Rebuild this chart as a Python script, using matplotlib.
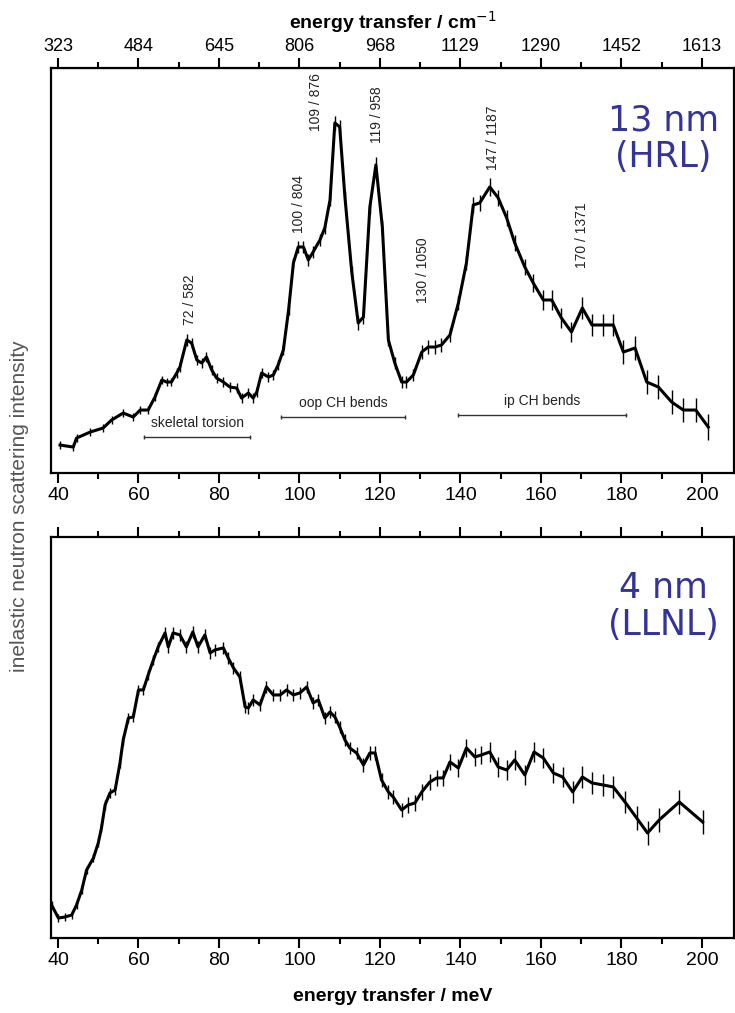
import matplotlib
matplotlib.use("Agg")
import matplotlib.pyplot as plt
from matplotlib.ticker import MultipleLocator

# ---- data (arbitrary intensity units) ----
hrl_e = [40.5, 43.8, 44.6, 48.0, 51.2, 53.3, 56.2, 58.7, 60.4, 62.4, 64.1, 65.8, 67.0,
         68.2, 69.5, 70.3, 72.0, 73.2, 74.5, 75.7, 76.9, 78.2, 79.4, 81.1, 82.7, 84.4,
         85.6, 87.3, 88.5, 89.4, 90.6, 92.3, 93.5, 94.7, 96.0, 97.3, 98.5, 99.7, 101.0,
         102.2, 103.4, 105.1, 106.3, 107.6, 108.8, 110.0, 111.3, 113.0, 114.6, 115.9,
         117.5, 119.0, 120.6, 122.1, 123.7, 125.4, 126.6, 128.3, 130.4, 132.0, 133.7,
         135.3, 137.4, 139.5, 141.5, 143.2, 144.8, 147.3, 149.4, 151.5, 153.5, 156.0,
         158.1, 160.6, 162.7, 165.1, 167.6, 170.3, 172.7, 175.5, 178.0, 180.5, 183.4,
         186.3, 189.2, 192.5, 195.4, 198.5, 201.6]
hrl_i = [28, 26, 35, 41, 45, 53, 60, 56, 63, 63, 76, 93, 91,
         91, 100, 106, 133, 130, 113, 110, 116, 103, 95, 91, 86, 85,
         75, 80, 75, 81, 100, 96, 98, 108, 123, 163, 210, 226, 226,
         213, 221, 233, 245, 273, 350, 346, 276, 201, 150, 156,
         266, 308, 246, 133, 110, 91, 91, 98, 121, 126, 126,
         128, 138, 170, 210, 268, 270, 286, 275, 255, 230, 206,
         190, 173, 173, 155, 141, 165, 148, 148, 148, 121, 125,
         91, 86, 71, 63, 63, 46]
hrl_err = [4, 4, 4, 4, 4, 4, 4, 4, 4, 4, 4, 4, 4,
           4, 5, 5, 6, 5, 5, 5, 5, 5, 5, 5, 5, 5,
           5, 5, 5, 5, 5, 5, 5, 5, 5, 5, 5, 6, 6,
           6, 6, 6, 6, 6, 7, 7, 6, 6, 7, 7,
           7, 8, 7, 6, 6, 6, 6, 6, 7, 7, 7,
           7, 7, 7, 7, 8, 8, 9, 8, 8, 8, 8,
           9, 10, 10, 10, 10, 11, 11, 11, 11, 12, 12,
           12, 12, 12, 12, 12, 13]

llnl_e = [38.4, 40.1, 41.7, 43.4, 44.6, 45.9, 47.1, 48.8, 50.0, 50.8, 51.7, 52.9,
          54.2, 55.4, 56.2, 57.5, 58.7, 60.0, 61.2, 62.4, 63.7, 64.9, 66.6, 67.4,
          68.6, 70.3, 71.9, 73.5, 74.8, 76.5, 77.8, 79.0, 81.1, 82.3, 83.6, 85.2,
          86.5, 87.3, 88.5, 90.2, 91.8, 93.5, 95.2, 96.8, 98.5, 100.1, 101.8, 103.4,
          104.7, 106.3, 107.6, 108.8, 110.0, 111.3, 112.5, 114.2, 115.9, 117.5,
          118.8, 120.4, 122.1, 123.3, 125.4, 127.0, 128.7, 130.4, 132.4, 134.1,
          135.7, 137.4, 139.5, 141.5, 143.6, 145.2, 147.3, 149.4, 151.5, 153.5,
          156.0, 158.3, 160.6, 163.1, 165.4, 167.9, 170.3, 172.7, 175.5, 178.0,
          180.9, 183.8, 186.5, 189.4, 194.4, 200.2]
llnl_i = [33, 20, 21, 23, 33, 48, 68, 80, 95, 110, 133, 145,
          148, 175, 198, 220, 221, 248, 248, 263, 278, 291, 305, 291,
          305, 303, 291, 306, 291, 303, 285, 288, 290, 280, 270, 261,
          231, 230, 238, 233, 251, 243, 243, 248, 243, 245, 251, 235,
          238, 220, 226, 221, 211, 198, 190, 185, 173, 185,
          185, 158, 146, 141, 128, 133, 135, 146, 156, 160,
          160, 176, 170, 190, 181, 183, 186, 171, 168, 178,
          163, 186, 180, 165, 161, 146, 161, 155, 153, 151,
          136, 120, 105, 118, 136, 116]
llnl_err = [4, 4, 4, 4, 4, 4, 4, 4, 4, 4, 5, 5,
            5, 5, 5, 5, 5, 5, 5, 5, 5, 5, 6, 6,
            6, 6, 6, 6, 6, 6, 6, 6, 6, 6, 6, 6,
            6, 6, 6, 6, 6, 6, 6, 6, 6, 6, 6, 6,
            6, 6, 6, 6, 6, 6, 6, 6, 7, 7,
            7, 7, 7, 7, 7, 8, 8, 8, 8, 8,
            8, 8, 9, 9, 9, 9, 10, 10, 10, 10,
            10, 10, 10, 10, 10, 11, 11, 11, 11, 11,
            11, 12, 12, 12, 12, 12]

peak_labels = ["72 / 582", "100 / 804", "109 / 876", "119 / 958",
               "130 / 1050", "147 / 1187", "170 / 1371"]
peak_e = [72.8, 100.0, 104.2, 119.2, 130.6, 148.2, 170.2]
peak_y = [148, 240, 342, 330, 170, 303, 205]

band_names = ["skeletal torsion", "oop CH bends", "ip CH bends"]
band_lo = [61.4, 95.4, 139.4]
band_hi = [87.7, 126.2, 181.1]
band_y = [36, 56, 58]

mev_ticks = [40, 60, 80, 100, 120, 140, 160, 180, 200]
cm_labels = ["323", "484", "645", "806", "968", "1129", "1290", "1452", "1613"]

plt.rcParams["font.family"] = ["Liberation Sans", "DejaVu Sans"]
fig = plt.figure(figsize=(7.35, 10.13), dpi=100)
ax1 = fig.add_axes([0.0694, 0.533, 0.929, 0.400])
ax2 = fig.add_axes([0.0694, 0.074, 0.929, 0.396])

navy = "#33339a"


def style(ax, ylim):
    ax.set_xlim(38.26, 207.95)
    ax.set_ylim(0, ylim)
    ax.set_yticks([])
    ax.set_xticks(mev_ticks)
    ax.xaxis.set_minor_locator(MultipleLocator(10))
    ax.tick_params(axis="x", which="both", direction="out", top=True,
                   width=1.5, labelsize=14, colors="black", pad=3)
    ax.tick_params(axis="x", which="major", length=7)
    ax.tick_params(axis="x", which="minor", length=4)
    for s in ax.spines.values():
        s.set_linewidth(1.6)


for ax, e, i, err, ylim in [(ax1, hrl_e, hrl_i, hrl_err, 405),
                            (ax2, llnl_e, llnl_i, llnl_err, 401)]:
    ax.errorbar(e, i, yerr=err, color="black", lw=2.2, elinewidth=1.0, capsize=0)
    style(ax, ylim)

# top panel: cm-1 scale on top
sec = ax1.secondary_xaxis("top")
sec.set_xticks(mev_ticks, labels=cm_labels)
sec.tick_params(direction="out", width=1.5, length=7, labelsize=13, pad=2)
sec.set_xlabel("energy transfer / cm$^{-1}$", fontsize=14, fontweight="bold", labelpad=7)
ax1.tick_params(axis="x", which="both", top=False)
sec.xaxis.set_minor_locator(MultipleLocator(10))
sec.tick_params(which="minor", direction="out", width=1.5, length=4)

for lab, x, y in zip(peak_labels, peak_e, peak_y):
    ax1.text(x, y, lab, rotation=90, ha="center", va="bottom",
             fontsize=10, color="#222222")

for name, lo, hi, y in zip(band_names, band_lo, band_hi, band_y):
    ax1.errorbar([lo, hi], [y, y], yerr=2, color="#333333", lw=1, capsize=0)
    ax1.text((lo + hi) / 2, y + 7, name, ha="center", va="bottom",
             fontsize=10, color="#222222")

ax1.text(0.897, 0.825, "13 nm\n(HRL)", transform=ax1.transAxes, ha="center", va="center",
         fontsize=25, color=navy, linespacing=1.1, family=["DejaVu Sans"])
ax2.text(0.897, 0.826, "4 nm\n(LLNL)", transform=ax2.transAxes, ha="center", va="center",
         fontsize=25, color=navy, linespacing=1.1, family=["DejaVu Sans"])

ax2.set_xlabel("energy transfer / meV", fontsize=14, fontweight="bold", labelpad=14)
fig.text(0.027, 0.5, "inelastic neutron scattering intensity", rotation=90,
         ha="center", va="center", fontsize=15, color="#555555")

fig.savefig("out.png", dpi=100)
